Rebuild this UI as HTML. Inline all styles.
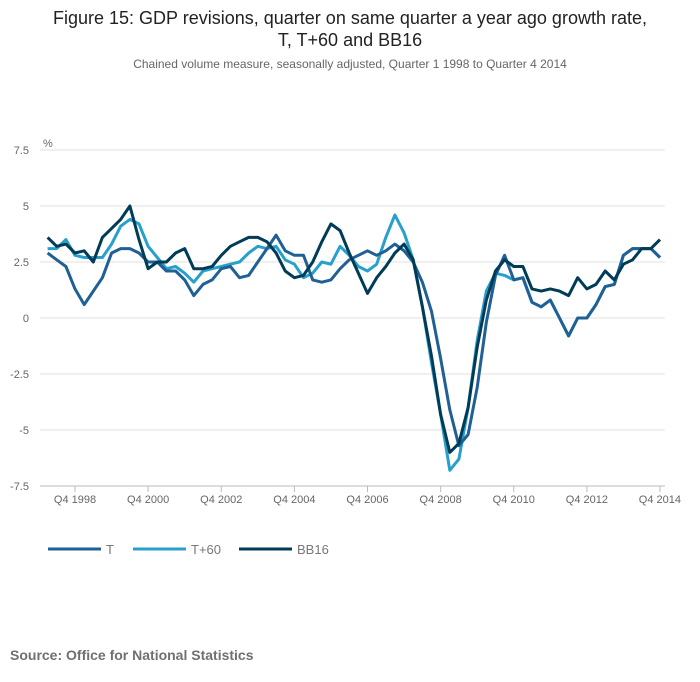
<!DOCTYPE html>
<html><head><meta charset="utf-8"><style>
body{margin:0;background:#fff;font-family:"Liberation Sans",sans-serif;}
#wrap{position:relative;width:700px;height:682px;overflow:hidden}
</style></head><body>
<div id="wrap">
<svg id="chart" width="700" height="682">
<text x="350" y="24" text-anchor="middle" font-size="18" fill="#222">Figure 15: GDP revisions, quarter on same quarter a year ago growth rate,</text>
<text x="350" y="46" text-anchor="middle" font-size="18" fill="#222">T, T+60 and BB16</text>
<text x="350" y="68" text-anchor="middle" font-size="12" fill="#666">Chained volume measure, seasonally adjusted, Quarter 1 1998 to Quarter 4 2014</text>
<text x="43" y="147" font-size="11" fill="#666">%</text>
<g id="grid"></g><g id="xt"></g><g id="lines"></g>
<text x="10" y="660" font-size="14" font-weight="bold" fill="#707070">Source: Office for National Statistics</text>
</svg>
</div>
<script>
const yTicks=[7.5,5,2.5,0,-2.5,-5,-7.5];
const yTickLabels=["7.5","5","2.5","0","-2.5","-5","-7.5"];
const xTickIdx=[3,11,19,27,35,43,51,59,67];
const xTickLabels=["Q4 1998","Q4 2000","Q4 2002","Q4 2004","Q4 2006","Q4 2008","Q4 2010","Q4 2012","Q4 2014"];
const seriesNames=["T","T+60","BB16"];
const seriesT=[2.9,2.6,2.3,1.3,0.6,1.2,1.8,2.9,3.1,3.1,2.9,2.5,2.5,2.1,2.1,1.7,1.0,1.5,1.7,2.2,2.3,1.8,1.9,2.5,3.1,3.7,3.0,2.8,2.8,1.7,1.6,1.7,2.2,2.6,2.8,3.0,2.8,3.0,3.3,3.0,2.5,1.6,0.3,-1.8,-4.1,-5.7,-5.2,-3.1,-0.2,1.9,2.8,1.7,1.8,0.7,0.5,0.8,0.0,-0.8,0.0,0.0,0.6,1.4,1.5,2.8,3.1,3.1,3.1,2.7];
const seriesT60=[3.1,3.1,3.5,2.8,2.7,2.7,2.7,3.3,4.1,4.4,4.2,3.2,2.7,2.2,2.3,2.0,1.6,2.1,2.2,2.3,2.4,2.5,2.9,3.2,3.1,3.2,2.6,2.4,1.8,2.0,2.5,2.4,3.2,2.8,2.3,2.1,2.4,3.6,4.6,3.8,2.6,0.5,-2.0,-4.3,-6.8,-6.3,-4.0,-1.0,1.2,2.0,1.9,1.7,1.8,0.7,0.5,0.8,0.0,-0.8,0.0,0.0,0.6,1.4,1.5,2.8,3.1,3.1,3.1,2.7];
const seriesBB16=[3.6,3.2,3.3,2.9,3.0,2.5,3.6,4.0,4.4,5.0,3.5,2.2,2.5,2.5,2.9,3.1,2.2,2.2,2.3,2.8,3.2,3.4,3.6,3.6,3.4,2.9,2.1,1.8,1.9,2.5,3.4,4.2,3.9,2.9,2.0,1.1,1.8,2.3,2.9,3.3,2.6,0.5,-1.7,-4.3,-6.0,-5.6,-4.0,-1.3,0.8,2.1,2.6,2.3,2.3,1.3,1.2,1.3,1.2,1.0,1.8,1.3,1.5,2.1,1.7,2.4,2.6,3.1,3.1,3.5];
const NS="http://www.w3.org/2000/svg";
const xS=i=>47.6+i*(660-47.6)/67;
const yS=v=>318-v*22.4;
const grid=document.getElementById('grid');
yTicks.forEach((t,k)=>{
 const l=document.createElementNS(NS,'line');
 l.setAttribute('x1',40);l.setAttribute('x2',665);l.setAttribute('y1',yS(t));l.setAttribute('y2',yS(t));
 l.setAttribute('stroke',t===-7.5?'#bbb':'#e2e2e2');l.setAttribute('stroke-width',1);
 
 
 grid.appendChild(l);
 const tx=document.createElementNS(NS,'text');
 tx.setAttribute('x',29);tx.setAttribute('y',yS(t)+4);tx.setAttribute('text-anchor','end');
 tx.setAttribute('font-size',11);tx.setAttribute('fill','#666');tx.textContent=yTickLabels[k];
 
 
 grid.appendChild(tx);
});
const xt=document.getElementById('xt');
xTickIdx.forEach((i,k)=>{
 const l=document.createElementNS(NS,'line');
 l.setAttribute('x1',xS(i));l.setAttribute('x2',xS(i));l.setAttribute('y1',486);l.setAttribute('y2',492);
 l.setAttribute('stroke','#bbb');
 
 
 xt.appendChild(l);
 const tx=document.createElementNS(NS,'text');
 tx.setAttribute('x',xS(i));tx.setAttribute('y',503);tx.setAttribute('text-anchor',k===8?'end':'middle');
 if(k===8)tx.setAttribute('x',xS(i)+21);
 tx.setAttribute('font-size',11);tx.setAttribute('fill','#666');tx.textContent=xTickLabels[k];
 
 
 xt.appendChild(tx);
});
const colors=["#206095","#27a0cc","#003c57"];
const data=[seriesT,seriesT60,seriesBB16];
const order=[1,0,2];
const lines=document.getElementById('lines');
order.forEach(s=>{
 const p=document.createElementNS(NS,'polyline');
 p.setAttribute('points',data[s].map((v,i)=>xS(i).toFixed(1)+','+yS(v).toFixed(1)).join(' '));
 p.setAttribute('fill','none');p.setAttribute('stroke',colors[s]);p.setAttribute('stroke-width',3);p.setAttribute('stroke-linejoin','round');
 
 
 lines.appendChild(p);
});
const lx=[48,133,239];
seriesNames.forEach((n,s)=>{
 const l=document.createElementNS(NS,'line');
 l.setAttribute('x1',lx[s]);l.setAttribute('x2',lx[s]+53);l.setAttribute('y1',549);l.setAttribute('y2',549);
 l.setAttribute('stroke',colors[s]);l.setAttribute('stroke-width',3);
 
 
 lines.appendChild(l);
 const tx=document.createElementNS(NS,'text');
 tx.setAttribute('x',lx[s]+58);tx.setAttribute('y',554);tx.setAttribute('font-size',13);tx.setAttribute('fill','#777');
 tx.textContent=n;
 
 
 lines.appendChild(tx);
});
</script>
</body></html>
